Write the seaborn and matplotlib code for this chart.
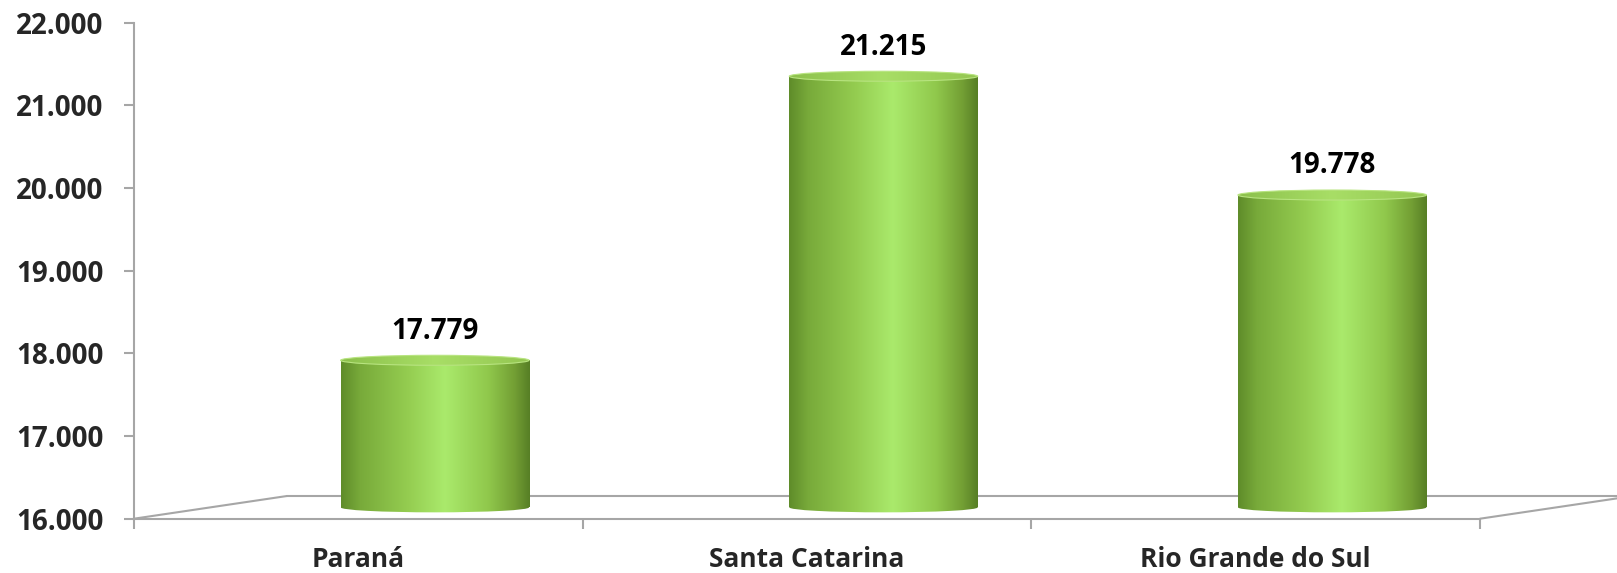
import numpy as np
import pandas as pd
import matplotlib
matplotlib.use("Agg")
import matplotlib.pyplot as plt
import seaborn as sns
from matplotlib.patches import Ellipse
from matplotlib.lines import Line2D
from matplotlib.transforms import ScaledTranslation, IdentityTransform
from matplotlib.colors import LinearSegmentedColormap

# data
regioes = ["Paraná", "Santa Catarina", "Rio Grande do Sul"]
valores = [17779, 21215, 19778]
y_ticks = [16000, 17000, 18000, 19000, 20000, 21000, 22000]


def fmt_br(v):
    return "{:,.0f}".format(v).replace(",", ".")


sns.set_style("white")
plt.rcParams['font.family'] = ['Open Sans', 'DejaVu Sans']
plt.rcParams['font.weight'] = 'bold'

W, H = 1617, 573
fig = plt.figure(figsize=(W / 100, H / 100), dpi=100)
ax = fig.add_axes([134 / W, 1 - 518.7 / H, (1480 - 134) / W, (518.7 - 22.7) / H])

df = pd.DataFrame({"regiao": regioes, "valor": valores})
sns.barplot(data=df, x="regiao", y="valor", width=0.42, color="#8cc24a", ax=ax)

ymin, ymax = 16000, 22000
ax.set_ylim(ymin, ymax)
ax.set_xlim(-0.5, 2.5)

# 3D depth: floor depth vector, bars sit in the middle of it
depth_dx, depth_dy = 1.53, 0.227   # inches
mid = ax.transData + ScaledTranslation(depth_dx / 2, depth_dy / 2, fig.dpi_scale_trans)
back = ax.transData + ScaledTranslation(depth_dx, depth_dy, fig.dpi_scale_trans)

cyl = LinearSegmentedColormap.from_list("cyl", [
    (0.0, "#5f8c2a"), (0.1, "#78aa3a"), (0.35, "#94cc50"),
    (0.55, "#aaea6c"), (0.78, "#90c84c"), (0.92, "#739f34"), (1.0, "#577f25")])
cap = LinearSegmentedColormap.from_list("cap", [
    (0.0, "#8cc04c"), (0.5, "#a8de66"), (1.0, "#94c652")])
grad = np.linspace(0, 1, 256).reshape(1, -1)

ell_h = 10 / (ax.bbox.height / (ymax - ymin))  # caps ~10 px tall

for p, v in zip(ax.patches, valores):
    x0 = p.get_x()
    w = p.get_width()
    xc = x0 + w / 2
    p.set_y(ymin)
    p.set_height(v - ymin)
    p.set_transform(mid)
    p.set_facecolor("none")
    p.set_edgecolor("none")

    body = ax.imshow(grad, cmap=cyl, aspect="auto", interpolation="bilinear",
                     extent=[x0, x0 + w, ymin - ell_h, v], transform=mid, zorder=2)
    body.set_clip_path(p)

    bottom = Ellipse((xc, ymin), w, ell_h, transform=mid, facecolor="none", edgecolor="none")
    ax.add_patch(bottom)
    bimg = ax.imshow(grad, cmap=cyl, aspect="auto", interpolation="bilinear",
                     extent=[x0, x0 + w, ymin - ell_h, v], transform=mid, zorder=2)
    bimg.set_clip_path(bottom)

    top = Ellipse((xc, v), w, ell_h, transform=mid, facecolor="none",
                  edgecolor="#b8e480", linewidth=0.8, zorder=4)
    ax.add_patch(top)
    timg = ax.imshow(grad, cmap=cap, aspect="auto", interpolation="bilinear",
                     extent=[x0, x0 + w, v - ell_h, v + ell_h], transform=mid, zorder=3)
    timg.set_clip_path(top)

    ax.annotate(fmt_br(v), xy=(xc, v), xycoords=mid, xytext=(0, 21),
                textcoords="offset points", ha="center", va="center",
                fontsize=20, fontweight="bold", color="black")

ax.set_ylim(ymin, ymax)
ax.set_xlim(-0.5, 2.5)

# floor
floor_col = "#a6a6a6"
ax.plot([-0.5, 2.5], [ymin, ymin], transform=back, color=floor_col, lw=1.5,
        clip_on=False, zorder=1)
for xe in (-0.5, 2.5):
    a = ax.transData.transform((xe, ymin))
    b = back.transform((xe, ymin))
    fig.add_artist(Line2D([a[0], b[0]], [a[1], b[1]], transform=IdentityTransform(),
                          color=floor_col, lw=1.5))

# axes styling
for s in ("top", "right"):
    ax.spines[s].set_visible(False)
for s in ("left", "bottom"):
    ax.spines[s].set_color(floor_col)
    ax.spines[s].set_linewidth(1.5)

ax.set_yticks(y_ticks)
ax.set_yticklabels([fmt_br(t) for t in y_ticks])
ax.tick_params(axis="y", length=7, width=1.5, color=floor_col, pad=15,
               labelsize=20, left=True)
ax.set_xticks(range(len(regioes)))
ax.set_xticklabels(regioes)
ax.set_xticks([-0.5, 0.5, 1.5, 2.5], minor=True)
ax.tick_params(axis="x", which="major", length=0, pad=20, labelsize=19)
ax.tick_params(axis="x", which="minor", length=7, width=1.5, color=floor_col, bottom=True)
for lab in ax.get_xticklabels() + ax.get_yticklabels():
    lab.set_fontweight("bold")
ax.set_xlabel("")
ax.set_ylabel("")

fig.savefig("out.png", dpi=100)
